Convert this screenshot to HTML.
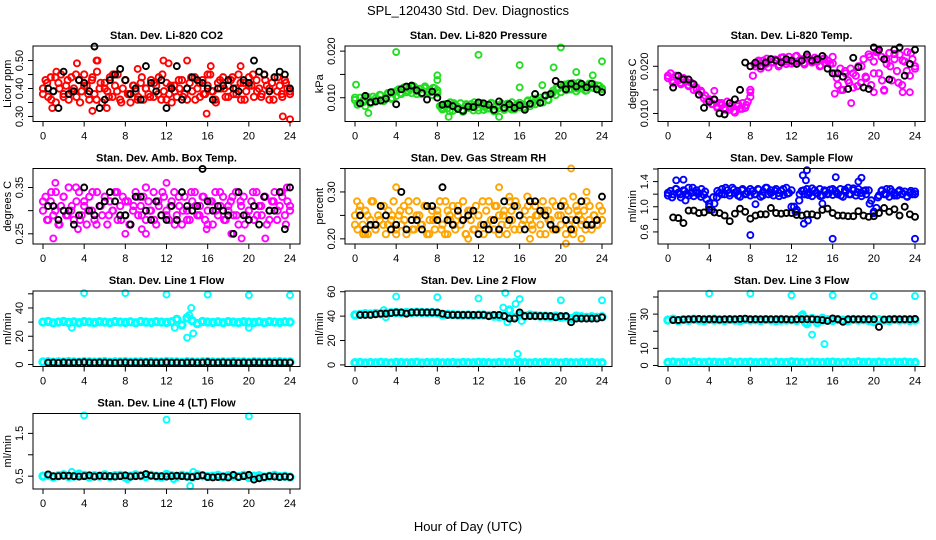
<!DOCTYPE html>
<html>
<head>
<meta charset="utf-8">
<style>
html,body{margin:0;padding:0;background:#fff;}
svg{display:block;font-family:"Liberation Sans",Arial,sans-serif;}
</style>
</head>
<body>
<svg id="chart" width="936" height="540" viewBox="0 0 936 540" xmlns="http://www.w3.org/2000/svg">
<rect x="0" y="0" width="936" height="540" fill="#fff"/>
<text x="468" y="15" font-size="13" text-anchor="middle">SPL_120430  Std. Dev. Diagnostics</text>
<text x="468" y="531" font-size="13" text-anchor="middle">Hour of Day (UTC)</text>
</svg>
<script>
// ---------- data ----------
const xTicks = [0,4,8,12,16,20,24];

const co2Band = [0.40,0.43,0.37,0.44,0.39,0.35,0.42,0.45,0.38,0.41,0.36,0.44,0.40,0.37,0.43,0.39,0.45,0.41,0.36,0.43,0.38,0.46,0.40,0.35,0.42,0.39,0.44,0.37,0.41,0.45,0.36,0.40,0.43,0.38,0.35,0.41,0.39,0.37,0.42,0.36,0.40,0.38,0.43,0.37,0.41,0.44,0.36,0.39,0.42,0.38,0.35,0.41,0.37,0.40,0.43,0.38,0.36,0.42,0.39,0.44,0.40,0.37,0.43,0.38,0.41,0.45,0.39,0.36,0.42,0.40,0.44,0.37,0.41,0.43,0.38,0.40,0.45,0.36,0.42,0.39,0.44,0.41,0.37,0.43,0.40,0.38,0.45,0.41,0.36,0.42,0.44,0.39,0.41,0.37,0.43,0.40,0.38];
const co2BandB = [0.38,0.42,0.36,0.44,0.40,0.37,0.43,0.39,0.45,0.35,0.41,0.38,0.44,0.36,0.42,0.40,0.37,0.45,0.39,0.35,0.43,0.38,0.41,0.36,0.44,0.40,0.37,0.42,0.38,0.45,0.36,0.41,0.39,0.43,0.37,0.40,0.44,0.36,0.42,0.38,0.45,0.39,0.35,0.43,0.40,0.37,0.44,0.38,0.42,0.36,0.41,0.45,0.39,0.37,0.43,0.40,0.36,0.44,0.38,0.42,0.39];
const co2Out = [[5.2,0.50],[5.3,0.50],[15.9,0.31],[23.3,0.30],[24,0.29],[4.8,0.32],[0.9,0.33],[3.3,0.49],[11.7,0.50],[12.2,0.49],[14.0,0.50],[16.3,0.48],[1.3,0.46],[19.2,0.48],[9.2,0.47],[6.2,0.33]];
const co2Black = [0.40,0.39,0.33,0.46,0.38,0.39,0.43,0.42,0.39,0.55,0.33,0.36,0.43,0.45,0.47,0.43,0.38,0.40,0.36,0.48,0.42,0.39,0.43,0.33,0.40,0.48,0.36,0.40,0.44,0.43,0.42,0.40,0.36,0.40,0.41,0.43,0.40,0.39,0.43,0.42,0.50,0.46,0.45,0.39,0.44,0.46,0.45,0.40];

const presBand = [0.0095,0.0085,0.0100,0.0090,0.0082,0.0098,0.0088,0.0102,0.0092,0.0096,0.0105,0.0094,0.0100,0.0108,0.0098,0.0112,0.0104,0.0118,0.0108,0.0122,0.0112,0.0120,0.0110,0.0124,0.0114,0.0119,0.0108,0.0121,0.0113,0.0117,0.0106,0.0120,0.0110,0.0082,0.0075,0.0086,0.0078,0.0090,0.0072,0.0084,0.0076,0.0088,0.0070,0.0082,0.0078,0.0086,0.0073,0.0084,0.0079,0.0088,0.0074,0.0083,0.0077,0.0089,0.0071,0.0082,0.0078,0.0087,0.0074,0.0085,0.0079,0.0090,0.0075,0.0086,0.0080,0.0085,0.0078,0.0092,0.0082,0.0096,0.0086,0.0094,0.0100,0.0090,0.0104,0.0096,0.0108,0.0115,0.0106,0.0120,0.0112,0.0126,0.0116,0.0130,0.0118,0.0124,0.0114,0.0132,0.0120,0.0126,0.0116,0.0130,0.0122,0.0128,0.0118,0.0125,0.0120];
const presBandB = [0.0100,0.0088,0.0094,0.0102,0.0090,0.0098,0.0106,0.0093,0.0110,0.0100,0.0114,0.0110,0.0122,0.0114,0.0125,0.0108,0.0119,0.0124,0.0112,0.0121,0.0116,0.0078,0.0085,0.0072,0.0088,0.0080,0.0074,0.0086,0.0079,0.0090,0.0073,0.0083,0.0077,0.0088,0.0072,0.0084,0.0080,0.0087,0.0075,0.0082,0.0089,0.0080,0.0094,0.0087,0.0098,0.0090,0.0102,0.0095,0.0110,0.0122,0.0112,0.0128,0.0118,0.0131,0.0120,0.0127,0.0115,0.0129,0.0121,0.0126,0.0118];
const presOut = [[0.1,0.0128],[4.0,0.0198],[1.3,0.0067],[8.0,0.0148],[8.0,0.0138],[12.0,0.0192],[16.0,0.0170],[16.0,0.0122],[20.0,0.0208],[19.3,0.0165],[21.5,0.0155],[23.1,0.0148],[24.0,0.0178],[9.1,0.0059],[14.0,0.0059],[18.2,0.0127]];
const presBlack = [0.0088,0.0104,0.0090,0.0092,0.0094,0.0098,0.0112,0.0086,0.0118,0.0124,0.0126,0.0116,0.0110,0.0096,0.0113,0.0100,0.0085,0.0087,0.0082,0.0076,0.0072,0.0081,0.0080,0.0090,0.0088,0.0085,0.0074,0.0092,0.0078,0.0086,0.0078,0.0084,0.0074,0.0087,0.0108,0.0089,0.0105,0.0108,0.0136,0.0128,0.0118,0.0130,0.0124,0.0130,0.0122,0.0130,0.0118,0.0112];

const tempBand = [0.0175,0.0185,0.0165,0.0180,0.0170,0.0162,0.0175,0.0168,0.0158,0.0165,0.0150,0.0155,0.0140,0.0145,0.0132,0.0125,0.0130,0.0120,0.0128,0.0115,0.0122,0.0118,0.0112,0.0125,0.0108,0.0118,0.0102,0.0115,0.0110,0.0122,0.0112,0.0125,0.0135,0.0180,0.0200,0.0210,0.0195,0.0212,0.0205,0.0198,0.0215,0.0208,0.0212,0.0200,0.0218,0.0210,0.0205,0.0220,0.0212,0.0208,0.0222,0.0210,0.0215,0.0204,0.0220,0.0212,0.0208,0.0218,0.0210,0.0200,0.0215,0.0208,0.0212,0.0205,0.0220,0.0185,0.0160,0.0195,0.0150,0.0185,0.0170,0.0195,0.0155,0.0180,0.0200,0.0165,0.0215,0.0175,0.0225,0.0160,0.0210,0.0230,0.0185,0.0220,0.0150,0.0205,0.0228,0.0170,0.0215,0.0190,0.0225,0.0160,0.0210,0.0230,0.0180,0.0215,0.0195];
const tempBandB = [0.0180,0.0170,0.0178,0.0165,0.0172,0.0160,0.0163,0.0150,0.0148,0.0138,0.0128,0.0120,0.0112,0.0122,0.0108,0.0115,0.0105,0.0120,0.0110,0.0118,0.0150,0.0205,0.0212,0.0200,0.0216,0.0208,0.0214,0.0203,0.0219,0.0210,0.0206,0.0221,0.0213,0.0207,0.0218,0.0209,0.0214,0.0202,0.0217,0.0211,0.0206,0.0175,0.0150,0.0190,0.0165,0.0185,0.0158,0.0200,0.0178,0.0220,0.0185,0.0232,0.0170,0.0215,0.0200,0.0226,0.0165,0.0212,0.0190,0.0228,0.0200];
const tempOut = [[17.8,0.0122],[16.2,0.0142],[20,0.0145],[22.8,0.0145],[8.0,0.0145],[4.5,0.0148],[23.5,0.0145],[21.0,0.0148]];
const tempBlack = [0.0155,0.0180,0.0172,0.0172,0.0162,0.0140,0.0112,0.0125,0.0130,0.0100,0.0098,0.0122,0.0130,0.0150,0.0208,0.0200,0.0208,0.0200,0.0208,0.0215,0.0212,0.0208,0.0215,0.0212,0.0205,0.0212,0.0225,0.0212,0.0215,0.0222,0.0195,0.0185,0.0185,0.0178,0.0152,0.0218,0.0198,0.0155,0.0152,0.0240,0.0235,0.0215,0.0172,0.0235,0.0240,0.0180,0.0205,0.0235];

const ambBand = [0.30,0.33,0.28,0.32,0.29,0.34,0.27,0.31,0.33,0.29,0.35,0.30,0.28,0.32,0.34,0.29,0.31,0.27,0.33,0.30,0.28,0.34,0.31,0.29,0.33,0.27,0.32,0.30,0.34,0.28,0.31,0.33,0.29,0.32,0.27,0.30,0.34,0.29,0.31,0.33,0.28,0.32,0.30,0.34,0.27,0.31,0.29,0.33,0.30,0.28,0.32,0.34,0.29,0.31,0.27,0.33,0.30,0.28,0.32,0.34,0.29,0.31,0.33,0.28,0.30,0.32,0.27,0.34,0.29,0.31,0.33,0.28,0.30,0.32,0.29,0.34,0.27,0.31,0.33,0.29,0.30,0.32,0.28,0.34,0.31,0.29,0.33,0.27,0.30,0.32,0.34,0.28,0.31,0.33,0.29,0.32,0.30];
const ambBandB = [0.32,0.28,0.34,0.30,0.27,0.33,0.29,0.31,0.35,0.28,0.32,0.30,0.34,0.27,0.31,0.33,0.29,0.30,0.34,0.28,0.32,0.27,0.31,0.33,0.29,0.35,0.30,0.28,0.32,0.34,0.29,0.31,0.27,0.33,0.30,0.28,0.34,0.31,0.29,0.33,0.27,0.32,0.30,0.34,0.28,0.31,0.33,0.29,0.32,0.27,0.30,0.34,0.29,0.31,0.33,0.28,0.32,0.30,0.34,0.27,0.31];
const ambOut = [[1.0,0.24],[1.2,0.36],[3.4,0.26],[8.0,0.25],[9.6,0.26],[12.0,0.36],[15.9,0.26],[19.3,0.24],[21.6,0.24],[23.7,0.35],[18.3,0.25],[10.0,0.25]];
const ambBlack = [0.31,0.31,0.28,0.30,0.30,0.27,0.29,0.35,0.30,0.29,0.31,0.32,0.34,0.32,0.29,0.29,0.27,0.33,0.33,0.30,0.28,0.32,0.29,0.28,0.31,0.28,0.34,0.31,0.30,0.31,0.39,0.32,0.30,0.31,0.30,0.29,0.25,0.34,0.29,0.28,0.31,0.27,0.33,0.30,0.30,0.34,0.26,0.35];

const rhBand = [0.25,0.22,0.27,0.23,0.26,0.21,0.24,0.28,0.22,0.25,0.27,0.23,0.21,0.26,0.24,0.28,0.22,0.25,0.23,0.27,0.21,0.26,0.24,0.22,0.28,0.25,0.23,0.27,0.21,0.24,0.26,0.22,0.25,0.28,0.23,0.21,0.26,0.24,0.27,0.22,0.25,0.23,0.28,0.21,0.26,0.24,0.22,0.27,0.25,0.23,0.21,0.26,0.28,0.24,0.22,0.27,0.25,0.23,0.26,0.21,0.28,0.24,0.22,0.27,0.25,0.23,0.26,0.29,0.24,0.22,0.27,0.25,0.23,0.28,0.21,0.26,0.24,0.22,0.27,0.25,0.23,0.28,0.21,0.26,0.24,0.22,0.27,0.25,0.23,0.26,0.28,0.24,0.22,0.25,0.23,0.27,0.24];
const rhBandB = [0.23,0.26,0.21,0.25,0.28,0.22,0.24,0.27,0.23,0.25,0.21,0.26,0.24,0.28,0.22,0.25,0.23,0.27,0.21,0.24,0.26,0.22,0.28,0.25,0.23,0.27,0.24,0.21,0.26,0.22,0.25,0.28,0.23,0.24,0.27,0.21,0.25,0.23,0.26,0.28,0.22,0.24,0.27,0.23,0.25,0.21,0.26,0.24,0.28,0.22,0.25,0.27,0.23,0.21,0.26,0.24,0.22,0.27,0.25,0.23,0.26];
const rhOut = [[1.0,0.21],[4.0,0.31],[9.0,0.21],[11.0,0.20],[14.0,0.31],[15.0,0.29],[17.0,0.20],[20.5,0.19],[21.0,0.35],[21.2,0.29],[22.0,0.20],[22.5,0.30],[0.2,0.28]];
const rhBlack = [0.25,0.22,0.23,0.23,0.27,0.25,0.22,0.23,0.30,0.22,0.24,0.24,0.22,0.27,0.27,0.24,0.31,0.24,0.23,0.26,0.24,0.25,0.26,0.21,0.23,0.22,0.24,0.22,0.28,0.24,0.27,0.25,0.22,0.28,0.28,0.26,0.25,0.23,0.22,0.27,0.24,0.22,0.24,0.28,0.23,0.23,0.24,0.29];

const flowBand = [1.18,1.25,1.20,1.28,1.22,1.15,1.26,1.20,1.30,1.22,1.17,1.26,1.21,1.28,1.19,1.12,1.05,0.95,1.05,1.15,1.22,1.28,1.20,1.26,1.18,1.30,1.22,1.25,1.16,1.28,1.20,1.24,1.18,1.25,1.20,1.28,1.16,1.24,1.30,1.20,1.26,1.18,1.28,1.22,1.25,1.19,1.30,1.22,1.26,1.00,0.95,1.10,1.25,1.20,1.28,1.22,1.17,1.26,1.21,1.28,1.18,1.24,1.20,1.27,1.19,1.25,1.20,1.28,1.16,1.24,1.30,1.20,1.26,1.18,1.28,1.22,1.25,1.20,1.26,1.10,0.92,0.98,1.18,1.25,1.20,1.28,1.16,1.24,1.22,1.18,1.26,1.20,1.24,1.16,1.22,1.20,1.24];
const flowBandB = [1.22,1.15,1.28,1.20,1.25,1.18,1.30,1.22,1.16,1.24,1.00,1.15,1.25,1.20,1.30,1.22,1.27,1.18,1.26,1.21,1.28,1.20,1.27,1.18,1.30,1.22,1.25,1.17,1.28,1.21,1.00,0.92,1.20,1.26,1.19,1.29,1.22,1.17,1.26,1.21,1.28,1.22,1.18,1.27,1.20,1.29,1.23,1.17,1.26,1.05,0.90,1.15,1.26,1.20,1.28,1.18,1.24,1.21,1.17,1.25,1.20];
const flowOut = [[0.8,1.42],[1.5,1.43],[1.7,1.10],[8.0,0.55],[13.1,1.50],[13.5,1.58],[13.4,1.42],[13.2,0.73],[13.6,0.78],[16.0,0.49],[16.3,1.47],[18.5,1.40],[18.8,1.46],[24.0,0.49],[15.0,1.05],[8.5,1.04]];
const flowBlack = [0.83,0.82,0.74,0.94,0.94,0.90,0.91,0.95,0.91,0.90,0.86,0.77,0.89,0.97,0.92,0.81,0.86,0.88,0.88,0.98,0.90,0.89,0.90,0.90,0.87,0.86,0.88,0.88,0.86,0.95,0.97,0.90,0.86,0.86,0.85,0.85,0.93,0.86,0.84,0.85,0.90,0.98,0.92,0.96,0.86,1.00,0.88,0.84];

const line1Top = [30,30.5,29.5,30,30.5,29.8,30.2,29.6,30.4,30,29.7,30.3,30,29.6,30.4,30,29.8,30.2,29.5,30.5,30,29.7,30.3,30,29.8,30.2,32,28,33,31,29,30.5,30,29.8,30.2,29.6,30.4,30,29.7,30.3,30,29.8,30.2,29.6,30.4,30,29.8,30.2,30];
const line1Bot = [1.8,2.0,1.6,1.9,1.7,2.1,1.8,1.6,2.0,1.9,1.7,1.8,2.1,1.6,1.9,1.8,2.0,1.7,1.8,1.9,1.6,2.0,1.8,1.7,2.1,1.9,1.8,1.6,2.0,1.8,1.7,1.9,2.0,1.8,1.6,1.9,1.7,2.1,1.8,1.9,1.6,2.0,1.8,1.7,1.9,1.8,2.0,1.7,1.8];
const line1Out = [[4,50.5],[8,50.5],[12,49.5],[16,49.5],[20,49],[24,49],[2.8,26],[12.8,26],[14.4,40],[14.2,35],[14.6,22],[14.0,19],[20,26]];
const line1Black = [1.3,1.4,1.2,1.5,1.3,1.4,1.5,1.6,1.4,1.3,1.5,1.4,1.3,1.2,1.4,1.5,1.3,1.4,1.3,1.5,1.4,1.3,1.4,1.5,1.3,1.4,1.2,1.4,1.5,1.3,1.4,1.6,1.3,1.4,1.5,1.3,1.4,1.2,1.4,1.3,1.5,1.4,1.3,1.4,1.2,1.4,1.3,1.4];

const line2Top = [41,41.5,42,41.8,42.2,42,42.5,42.8,43,42.6,43,42.8,43.2,43,42.8,43,42.5,41,41.5,41.2,41,40.8,41,40.6,41,41,40.5,40,39.5,40,45,39,41,40,41,40.5,40,40,39.5,40,39,39.5,38,40,39.5,39,39.5,39,39.5];
const line2Bot = [1.8,2.0,1.6,1.9,1.7,2.1,1.8,1.6,2.0,1.9,1.7,1.8,2.1,1.6,1.9,1.8,2.0,1.7,1.8,1.9,1.6,2.0,1.8,1.7,2.1,1.9,1.8,1.6,2.0,1.8,1.7,1.9,2.0,1.8,1.6,1.9,1.7,2.1,1.8,1.9,1.6,2.0,1.8,1.7,1.9,1.8,2.0,1.7,1.8];
const line2Out = [[0,41],[4,56],[8,55.5],[12,54.5],[14.6,59],[14.4,47],[15.6,50],[16.0,54],[15.8,9],[16.2,36],[14.8,35],[20,53],[24,53],[3.0,39],[2.8,45]];
const line2Black = [41,41,41,41.5,42,42,42.5,43,43,42,43,43,43,43,43,43,42,41,41,41,41,41,41,41,41,40,41,41,40,38,38,43,40,40,40,40,40,40,39,40,40,35,38,38,38,38,38,39];

const line3Top = [26.5,27,26.2,26.8,26.4,27,26.5,26.2,26.9,26.5,26.7,26.3,26.8,26.5,26.2,26.9,26.5,26.7,26.3,26.8,26.5,26.2,26.9,26.5,26.7,26.3,29,24.5,27.5,25,26.5,26.7,26.3,26.8,26.5,26.2,26.9,26.5,26.7,26.3,25.5,26.8,26.5,26.2,26.9,26.5,26.7,26.3,26.5];
const line3Bot = [1.8,2.0,1.6,1.9,1.7,2.1,1.8,1.6,2.0,1.9,1.7,1.8,2.1,1.6,1.9,1.8,2.0,1.7,1.8,1.9,1.6,2.0,1.8,1.7,2.1,1.9,1.8,1.6,2.0,1.8,1.7,1.9,2.0,1.8,1.6,1.9,1.7,2.1,1.8,1.9,1.6,2.0,1.8,1.7,1.9,1.8,2.0,1.7,1.8];
const line3Out = [[4,42],[8,42],[12,41],[16,41],[20,40.5],[24,40.5],[14,18],[15.2,12.5],[13.1,30],[13.3,25],[15.0,28],[11,26],[4.5,27.5]];
const line3Black = [26.5,26.5,26.8,27,27,27.2,27,27,27,26.8,27,27,27,27.2,27.3,27,27,27,27,27,27,27,27,26.8,27,27,27,27,26.8,26.5,26,27.5,27,25.5,27,27,27,27,27,27,22.5,26.8,27,27,27,27,27,27.2];

const line4Band = [0.50,0.52,0.48,0.51,0.53,0.49,0.50,0.55,0.52,0.48,0.51,0.50,0.53,0.49,0.51,0.52,0.48,0.50,0.53,0.51,0.49,0.52,0.50,0.48,0.54,0.51,0.49,0.52,0.50,0.48,0.53,0.51,0.49,0.50,0.52,0.48,0.51,0.50,0.49,0.52,0.47,0.50,0.51,0.48,0.50,0.52,0.49,0.50,0.48];
const line4Out = [[4,1.92],[12,1.82],[20,1.9],[14.3,0.27],[8.2,0.43],[12.7,0.43],[14.6,0.6],[2.8,0.6]];
const line4Black = [0.54,0.50,0.50,0.51,0.51,0.50,0.49,0.50,0.52,0.49,0.51,0.50,0.50,0.49,0.50,0.52,0.49,0.50,0.51,0.55,0.51,0.50,0.50,0.49,0.50,0.51,0.50,0.49,0.48,0.50,0.52,0.48,0.47,0.48,0.49,0.47,0.53,0.48,0.50,0.53,0.42,0.45,0.48,0.50,0.49,0.48,0.49,0.48];

// ---------- panels ----------
const panels = [
 {name:'co2',title:'Stan. Dev. Li-820 CO2',ylab:'Licor ppm',col:0,row:0,ymin:0.282,ymax:0.552,ticks:[0.30,0.35,0.40,0.45,0.50],labels:['0.30','','0.40','','0.50'],color:'#ff0000',bands:[co2Band,co2BandB],out:co2Out,black:co2Black,r:3.2,sw:1.9},
 {name:'pressure',title:'Stan. Dev. Li-820 Pressure',ylab:'kPa',col:1,row:0,ymin:0.0049,ymax:0.0211,ticks:[0.010,0.015,0.020],labels:['0.010','','0.020'],color:'#22dd22',bands:[presBand,presBandB],out:presOut,black:presBlack,r:3.2,sw:1.9},
 {name:'temp',title:'Stan. Dev. Li-820 Temp.',ylab:'degrees C',col:2,row:0,ymin:0.0083,ymax:0.0243,ticks:[0.010,0.015,0.020],labels:['0.010','','0.020'],color:'#ff00ff',bands:[tempBand,tempBandB],out:tempOut,black:tempBlack,r:3.2,sw:1.9},
 {name:'amb-box-temp',title:'Stan. Dev. Amb. Box Temp.',ylab:'degrees C',col:0,row:1,ymin:0.228,ymax:0.391,ticks:[0.25,0.30,0.35],labels:['0.25','','0.35'],color:'#ff00ff',bands:[ambBand,ambBandB],out:ambOut,black:ambBlack,r:3.2,sw:1.9},
 {name:'gas-rh',title:'Stan. Dev. Gas Stream RH',ylab:'percent',col:1,row:1,ymin:0.189,ymax:0.35,ticks:[0.20,0.25,0.30,0.35],labels:['0.20','','0.30',''],color:'#ffa500',bands:[rhBand,rhBandB],out:rhOut,black:rhBlack,r:3.2,sw:1.9},
 {name:'sample-flow',title:'Stan. Dev. Sample Flow',ylab:'ml/min',col:2,row:1,ymin:0.408,ymax:1.608,ticks:[0.6,0.8,1.0,1.2,1.4,1.6],labels:['0.6','','1.0','','1.4',''],color:'#0000ff',bands:[flowBand,flowBandB],out:flowOut,black:flowBlack,r:3.2,sw:1.9},
 {name:'line1-flow',title:'Stan. Dev. Line 1 Flow',ylab:'ml/min',col:0,row:2,ymin:-1.4,ymax:52,ticks:[0,10,20,30,40,50],labels:['0','','20','','40',''],color:'#00ffff',bands:[line1Top,line1Bot],out:line1Out,black:line1Black,r:3.2,sw:3},
 {name:'line2-flow',title:'Stan. Dev. Line 2 Flow',ylab:'ml/min',col:1,row:2,ymin:-1.3,ymax:60.6,ticks:[0,20,40,60],labels:['0','20','40','60'],color:'#00ffff',bands:[line2Top,line2Bot],out:line2Out,black:line2Black,r:3.2,sw:3},
 {name:'line3-flow',title:'Stan. Dev. Line 3 Flow',ylab:'ml/min',col:2,row:2,ymin:-0.6,ymax:43.5,ticks:[0,10,20,30,40],labels:['0','10','','30',''],color:'#00ffff',bands:[line3Top,line3Bot],out:line3Out,black:line3Black,r:3.2,sw:3},
 {name:'line4-flow',title:'Stan. Dev. Line 4 (LT) Flow',ylab:'ml/min',col:0,row:3,ymin:0.2,ymax:1.965,ticks:[0.5,1.0,1.5],labels:['0.5','','1.5'],color:'#00ffff',bands:[line4Band],out:line4Out,black:line4Black,r:3.2,sw:3}
];

const NS='http://www.w3.org/2000/svg';
const svg=document.getElementById('chart');
const colX0=[43,355,668], rowTop=[46,168.5,291,413.5], BOXH=75.5, HRPX=247/24;
function mk(tag,attrs,parent){const e=document.createElementNS(NS,tag);for(const k in attrs)e.setAttribute(k,attrs[k]);parent.appendChild(e);return e;}

panels.forEach(p=>{
  const g=mk('g',{},svg);
  
  
  const x0=colX0[p.col], top=rowTop[p.row], bot=top+BOXH;
  const left=x0-10, right=x0+257;
  const xs=h=>x0+h*HRPX;
  const ys=v=>bot-(v-p.ymin)/(p.ymax-p.ymin)*BOXH;
  const mg=mk('g',{fill:'none'},g);
  
  
  p.bands.forEach(arr=>{
    arr.forEach((v,i)=>{
      const c=mk('circle',{cx:xs(i*24/(arr.length-1)),cy:ys(v),r:p.r,stroke:p.color,'stroke-width':p.sw},mg);
      
      
    });
  });
  p.out.forEach(d=>{
    const c=mk('circle',{cx:xs(d[0]),cy:ys(d[1]),r:3,stroke:p.color,'stroke-width':1.9},mg);
    
    
  });
  p.black.forEach((v,i)=>{
    const c=mk('circle',{cx:xs((i+1)*0.5),cy:ys(v),r:3,stroke:'#000','stroke-width':1.9},mg);
    
    
  });
  const box=mk('rect',{x:left,y:top,width:right-left,height:BOXH,fill:'none',stroke:'#000','stroke-width':1},g);
  
  
  const t=mk('text',{x:(left+right)/2,y:top-7,'font-size':11,'font-weight':'bold','text-anchor':'middle'},g);
  t.textContent=p.title;
  
  
  xTicks.forEach(h=>{
    const l=mk('line',{x1:xs(h),x2:xs(h),y1:bot,y2:bot+5,stroke:'#000'},g);
    
    
    const tx=mk('text',{x:xs(h),y:bot+18,'font-size':11,'text-anchor':'middle'},g);
    tx.textContent=String(h);
    
    
  });
  p.ticks.forEach((v,i)=>{
    const y=ys(v);
    const l=mk('line',{x1:left-5,x2:left,y1:y,y2:y,stroke:'#000'},g);
    
    
    if(p.labels[i]){
      const tx=mk('text',{x:left-10,y:y,'font-size':11,'text-anchor':'middle',transform:`rotate(-90 ${left-10} ${y})`},g);
      tx.textContent=p.labels[i];
      
      
    }
  });
  const yl=mk('text',{x:left-22,y:(top+bot)/2,'font-size':11,'text-anchor':'middle',transform:`rotate(-90 ${left-22} ${(top+bot)/2})`},g);
  yl.textContent=p.ylab;
  
  
});
</script>
</body>
</html>
